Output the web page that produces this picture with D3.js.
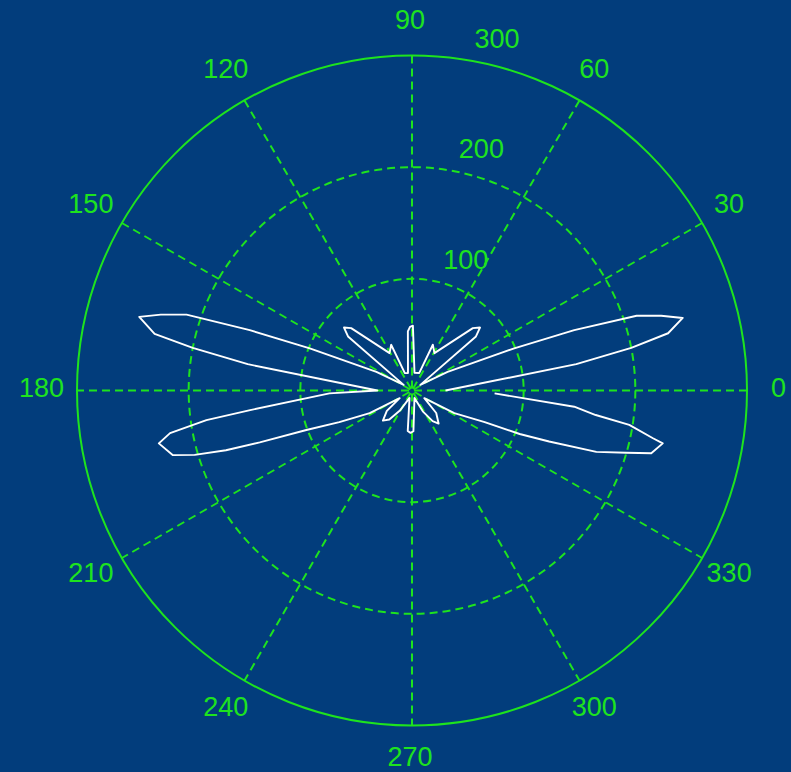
<!DOCTYPE html>
<html>
<head>
<meta charset="utf-8">
<script src="https://cdn.jsdelivr.net/npm/d3@7"></script>
<style>
  html, body { margin: 0; padding: 0; background: #023d7c; }
  svg { display: block; }
</style>
</head>
<body>
<svg id="chart" width="791" height="772"></svg>
<script>
// Pattern samples: angle in degrees (counter-clockwise from 0) and magnitude
const thetaDeg = [
  0, 9.1, 11.0, 12.6, 15.0, 16.7, 18.4, 20.4, 22.4, 27.7,
  34, 40.2, 42.8, 45.7, 59.0, 65.5, 67.5, 82, 89.2, 91.8,
  94, 103, 112.5, 114.5, 121, 134.3, 137.2, 139.8, 146, 152.3,
  157.6, 159.6, 161.4, 163.2, 164.9, 167.6, 169.0, 170.9, 180, 182,
  186.9, 188.2, 190.0, 191.8, 195.1, 196.5, 197.8, 198.8, 200.5, 203.5,
  208.2, 212, 219, 226, 232, 239, 251.6, 264, 268, 272,
  288.4, 297.4, 304, 308.8, 317.1, 328, 331.8, 336.5, 338, 339.6,
  341.6, 343.8, 345.3, 348.1, 348.8, 351.0, 352.4, 354.3, 358
];
const rho = [
  30, 149, 200, 235, 251, 233, 212, 155, 99, 36,
  9, 75, 83, 78, 39, 45, 17, 16, 58, 57,
  53, 16, 17, 45, 39, 78, 83, 75, 9, 36,
  99, 155, 213, 235, 253, 236, 200, 149, 31, 74,
  146, 186, 220, 231.6, 222, 203, 175, 144, 101, 71,
  43, 13, 29, 37.5, 33, 21, 7, 36.5, 38, 36.5,
  7, 21, 33, 38, 29.6, 13, 43, 71, 104, 131,
  174, 200, 221.5, 229.5, 220, 197, 166, 146, 74
];

// Grid values
const rMax = 300;
const ringValues = [100, 200];
const spokeAngles = [0, 30, 60, 90, 120, 150];
const angleTicks = [0, 30, 60, 90, 120, 150, 180, 210, 240, 270, 300, 330];
const angleTickLabels = ["0", "30", "60", "90", "120", "150", "180", "210", "240", "270", "300", "330"];
const radialTicks = [100, 200, 300];
const radialTickLabels = ["100", "200", "300"];

const W = 791, H = 772;
const cx = 412, cy = 390.5, R = 335;
const green = "#1ee31e";
const font = "'Liberation Sans', Arial, sans-serif";

const svg = d3.select("#chart");
svg.append("rect").attr("width", W).attr("height", H).attr("fill", "#023d7c");

const r = d3.scaleLinear().domain([0, rMax]).range([0, R]);
// degrees (math convention) -> d3 radial angle (clockwise from 12 o'clock)
const a = d3.scaleLinear().domain([0, 360]).range([Math.PI / 2, Math.PI / 2 - 2 * Math.PI]);

const g = svg.append("g").attr("transform", `translate(${cx},${cy})`);

const px = (deg, v) => r(v) * Math.sin(a(deg));
const py = (deg, v) => -r(v) * Math.cos(a(deg));

// dashed rings
g.selectAll("circle.ring").data(ringValues).join("circle")
  .attr("class", "ring")
  .attr("r", d => r(d))
  .attr("fill", "none")
  .attr("stroke", green)
  .attr("stroke-width", 2)
  .attr("stroke-dasharray", "8,5");

// dashed spokes across the full diameter
g.selectAll("line.spoke").data(spokeAngles).join("line")
  .attr("class", "spoke")
  .attr("x1", d => px(d, rMax)).attr("y1", d => py(d, rMax))
  .attr("x2", d => px(d + 180, rMax)).attr("y2", d => py(d + 180, rMax))
  .attr("stroke", green)
  .attr("stroke-width", 2)
  .attr("stroke-dasharray", "8,5");

// solid outer boundary
g.append("circle")
  .attr("r", r(rMax))
  .attr("fill", "none")
  .attr("stroke", green)
  .attr("stroke-width", 2);

// angle labels
g.selectAll("text.ang").data(angleTicks).join("text")
  .attr("class", "ang")
  .attr("x", d => px(d, rMax * 1.1))
  .attr("y", d => py(d, rMax * 1.1))
  .attr("dx", -2)
  .attr("dy", "0.25em")
  .attr("text-anchor", "middle")
  .attr("font-family", font)
  .attr("font-size", 27)
  .attr("fill", green)
  .text((d, i) => angleTickLabels[i]);

// magnitude labels along the 82 degree ray
g.selectAll("text.rad").data(radialTicks).join("text")
  .attr("class", "rad")
  .attr("x", d => px(82, d + 5))
  .attr("y", d => py(82, d + 5))
  .attr("dy", "-0.21em")
  .attr("text-anchor", "start")
  .attr("font-family", font)
  .attr("font-size", 27)
  .attr("fill", green)
  .style("white-space", "pre")
  .text((d, i) => "  " + radialTickLabels[i]);

// pattern trace
const pts = thetaDeg.map((t, i) => ({ t, v: rho[i] }));
const line = d3.lineRadial()
  .angle(d => a(d.t))
  .radius(d => r(d.v));

g.append("path")
  .datum(pts)
  .attr("d", line)
  .attr("fill", "none")
  .attr("stroke", "#ffffff")
  .attr("stroke-width", 1.9)
  .attr("stroke-linejoin", "round");
</script>
</body>
</html>
